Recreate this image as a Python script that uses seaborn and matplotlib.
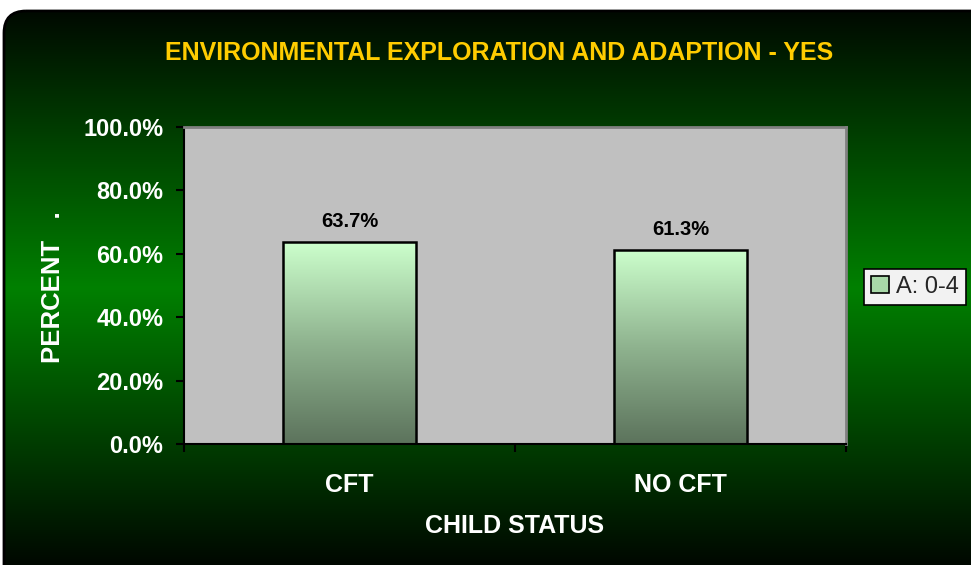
import numpy as np
import pandas as pd
import matplotlib
matplotlib.use("Agg")
import matplotlib.pyplot as plt
import seaborn as sns
from matplotlib.colors import LinearSegmentedColormap
from matplotlib.patches import FancyBboxPatch, Patch

categories = ["CFT", "NO CFT"]
values = [63.7, 61.3]
series_name = "A: 0-4"
y_ticks = [0, 20, 40, 60, 80, 100]

W, H = 971, 565

sns.set_theme(style="white")
plt.rcParams["font.family"] = ["Liberation Sans", "DejaVu Sans"]

fig = plt.figure(figsize=(W / 100, H / 100), dpi=100)
fig.patch.set_facecolor("white")

# ── background: rounded panel with vertical black-green-black gradient ──
bg = fig.add_axes([0, 0, 1, 1])
bg.set_xlim(0, W)
bg.set_ylim(H, 0)
bg.axis("off")
bg_cmap = LinearSegmentedColormap.from_list(
    "bg", [(0.0, "#000a00"), (0.5, "#008000"), (1.0, "#000800")])
grad = np.linspace(0, 1, 256).reshape(-1, 1)
panel = FancyBboxPatch((4, 11), W + 40, H + 40,
                       boxstyle="round,pad=0,rounding_size=22",
                       facecolor="none", edgecolor="black", lw=2)
bg.add_patch(panel)
im = bg.imshow(grad, cmap=bg_cmap, aspect="auto", extent=(0, W, H, 11))
im.set_clip_path(panel)

# ── plot area ──
ax = fig.add_axes([184 / W, 1 - 444 / H, (846 - 184) / W, (444 - 127) / H])
ax.set_facecolor("#c0c0c0")

df = pd.DataFrame({"status": categories, "pct": values})
sns.barplot(data=df, x="status", y="pct", ax=ax, width=0.4,
            color="#a0d0a0", edgecolor="black", linewidth=1.8, zorder=3)

bar_cmap = LinearSegmentedColormap.from_list("bar", ["#5c735c", "#8fb38f", "#ccffcc"])
bar_grad = np.linspace(0, 1, 256).reshape(-1, 1)
for p in ax.patches:
    x0, y0 = p.get_x(), p.get_y()
    w, h = p.get_width(), p.get_height()
    gi = ax.imshow(bar_grad, cmap=bar_cmap, origin="lower", aspect="auto",
                   extent=(x0, x0 + w, y0, y0 + h), zorder=2.5)
    gi.set_clip_path(p)
    p.set_facecolor("none")
    ax.annotate(f"{h:.1f}%", (x0 + w / 2, h), xytext=(0, 8),
                textcoords="offset points", ha="center", va="bottom",
                fontsize=14.5, fontweight="bold", color="black")

ax.set_xlim(-0.5, 1.5)
ax.set_ylim(0, 100)
ax.set_yticks(y_ticks)
ax.set_yticklabels([f"{v:.1f}%" for v in y_ticks])
ax.tick_params(axis="y", which="major", left=True, length=6, width=1.5,
               color="black", labelcolor="white", labelsize=17, pad=9)
ax.set_xticks([0, 1])
ax.set_xticklabels(categories)
ax.tick_params(axis="x", which="major", bottom=False, labelcolor="white",
               labelsize=18, pad=15)
ax.set_xticks([-0.5, 0.5, 1.5], minor=True)
ax.tick_params(axis="x", which="minor", bottom=True, length=6, width=1.5,
               color="black")
for lab in ax.get_xticklabels() + ax.get_yticklabels():
    lab.set_fontweight("bold")

for side in ["top", "right"]:
    ax.spines[side].set_color("#808080")
    ax.spines[side].set_linewidth(2)
for side in ["left", "bottom"]:
    ax.spines[side].set_color("black")
    ax.spines[side].set_linewidth(1.5)

ax.set_xlabel("CHILD STATUS", color="white", fontsize=18, fontweight="bold",
              labelpad=12)
ax.set_ylabel("")

fig.text(499 / W, 1 - 53 / H, "ENVIRONMENTAL EXPLORATION AND ADAPTION - YES",
         ha="center", va="center", color="#ffcc00", fontsize=18,
         fontweight="bold")
fig.text(53 / W, 1 - 287 / H, "PERCENT   .", rotation=90, ha="center",
         va="center", color="white", fontsize=18.5, fontweight="bold")

handle = Patch(facecolor="#a8d8a8", edgecolor="black", linewidth=1.2)
leg = fig.legend([handle], [series_name], loc="center",
                 bbox_to_anchor=(915 / W, 1 - 287 / H), frameon=True,
                 fontsize=17, handlelength=0.75, handleheight=0.75,
                 handletextpad=0.3, borderpad=0.3, fancybox=False)
leg.get_frame().set_facecolor("#f2f2f2")
leg.get_frame().set_edgecolor("black")
leg.get_frame().set_linewidth(1.2)
leg.get_frame().set_alpha(1)

fig.savefig("out.png", dpi=100, facecolor=fig.get_facecolor())
